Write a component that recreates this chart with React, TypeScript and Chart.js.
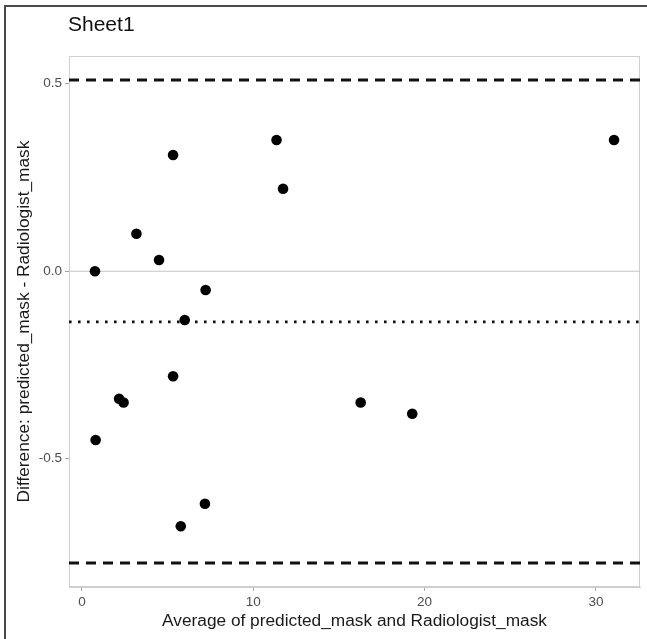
import React, { useEffect, useRef } from "react";
import { Chart, registerables } from "chart.js";

Chart.register(...registerables);

// ---- data ----
const avgValues = [0.76, 3.18, 4.5, 5.32, 7.22, 6.0, 11.36, 11.74, 5.32, 2.17, 2.43, 0.8, 16.27, 19.28, 7.18, 5.77, 31.06];
const diffValues = [0.0, 0.1, 0.03, 0.31, -0.05, -0.13, 0.35, 0.22, -0.28, -0.34, -0.35, -0.45, -0.35, -0.38, -0.62, -0.68, 0.35];
const meanDiff = -0.135;
const upperLoA = 0.51;
const lowerLoA = -0.778;
const zeroLine = 0;
const xTicks = [0, 10, 20, 30];
const yTicks = [-0.5, 0, 0.5];
const xRange = [-0.755, 32.575];
const yRange = [-0.842, 0.574];
const titleText = "Sheet1";
const xTitle = "Average of predicted_mask and Radiologist_mask";
const yTitle = "Difference: predicted_mask - Radiologist_mask";

const FONT = "'Liberation Sans', Arial, sans-serif";

const hline = (y: number) => [
  { x: xRange[0], y },
  { x: xRange[1], y },
];

const framePlugin = {
  id: "framePlugin",
  beforeDraw(chart: any) {
    const { ctx, width, height, chartArea } = chart;
    ctx.save();
    ctx.fillStyle = "#ffffff";
    ctx.fillRect(0, 0, width, height);
    // outer frame
    ctx.strokeStyle = "#4a4a4a";
    ctx.lineWidth = 2;
    ctx.beginPath();
    ctx.moveTo(5, height);
    ctx.lineTo(5, 6);
    ctx.lineTo(width, 6);
    ctx.stroke();
    // title
    ctx.fillStyle = "#111111";
    ctx.font = `21px ${FONT}`;
    ctx.textBaseline = "middle";
    ctx.textAlign = "left";
    ctx.fillText(titleText, 68, 25);
    // panel border
    ctx.strokeStyle = "#cfcfcf";
    ctx.lineWidth = 1;
    ctx.strokeRect(
      chartArea.left + 0.5,
      chartArea.top + 0.5,
      chartArea.right - chartArea.left - 1,
      chartArea.bottom - chartArea.top - 1
    );
    ctx.restore();
  },
};

export default function App() {
  const ref = useRef<HTMLCanvasElement | null>(null);

  useEffect(() => {
    document.body.style.margin = "0";
    if (!ref.current) return;
    const chart = new Chart(ref.current, {
      type: "scatter",
      data: {
        datasets: [
          {
            type: "scatter",
            label: "points",
            data: avgValues.map((x, i) => ({ x, y: diffValues[i] })),
            backgroundColor: "#000000",
            borderWidth: 0,
            pointRadius: 5.3,
          },
          {
            type: "line",
            label: "upper",
            data: hline(upperLoA),
            borderColor: "#111111",
            borderWidth: 3,
            borderDash: [10, 7],
            pointRadius: 0,
          },
          {
            type: "line",
            label: "lower",
            data: hline(lowerLoA),
            borderColor: "#111111",
            borderWidth: 3,
            borderDash: [10, 7],
            pointRadius: 0,
          },
          {
            type: "line",
            label: "mean",
            data: hline(meanDiff),
            borderColor: "#111111",
            borderWidth: 2.6,
            borderDash: [2.6, 6.4],
            pointRadius: 0,
          },
          {
            type: "line",
            label: "zero",
            data: hline(zeroLine),
            borderColor: "#c4c4c4",
            borderWidth: 1.2,
            pointRadius: 0,
          },
        ],
      } as any,
      options: {
        animation: false,
        responsive: false,
        layout: { padding: { left: 0, top: 56, right: 7, bottom: 0 } },
        plugins: {
          legend: { display: false },
          tooltip: { enabled: false },
          title: { display: false },
        },
        scales: {
          x: {
            type: "linear",
            min: xRange[0],
            max: xRange[1],
            afterBuildTicks: (s: any) => {
              s.ticks = xTicks.map((v) => ({ value: v }));
            },
            afterFit: (s: any) => {
              s.height = 52;
            },
            grid: { drawOnChartArea: false, drawTicks: true, tickLength: 4, tickColor: "#a8a8a8" },
            border: { display: true, color: "#cfcfcf" },
            ticks: {
              padding: 3,
              color: "#4d4d4d",
              font: { family: FONT, size: 13.5 },
              callback: (v: any) => String(v),
            },
            title: {
              display: true,
              text: xTitle,
              color: "#1a1a1a",
              font: { family: FONT, size: 17.3 },
              padding: { top: 0, bottom: 7 },
            },
          },
          y: {
            type: "linear",
            min: yRange[0],
            max: yRange[1],
            afterBuildTicks: (s: any) => {
              s.ticks = yTicks.map((v) => ({ value: v }));
            },
            afterFit: (s: any) => {
              s.width = 69;
            },
            grid: { drawOnChartArea: false, drawTicks: true, tickLength: 4, tickColor: "#a8a8a8" },
            border: { display: true, color: "#cfcfcf" },
            ticks: {
              padding: 3,
              color: "#4d4d4d",
              font: { family: FONT, size: 13.5 },
              callback: (v: any) => Number(v).toFixed(1),
            },
            title: {
              display: true,
              text: yTitle,
              color: "#1a1a1a",
              font: { family: FONT, size: 17.3 },
              padding: { top: 14, bottom: 0 },
            },
          },
        },
      } as any,
      plugins: [framePlugin],
    });
    return () => chart.destroy();
  }, []);

  return (
    <div style={{ width: 647, height: 639 }}>
      <canvas ref={ref} width={647} height={639} style={{ width: 647, height: 639, display: "block" }} />
    </div>
  );
}
